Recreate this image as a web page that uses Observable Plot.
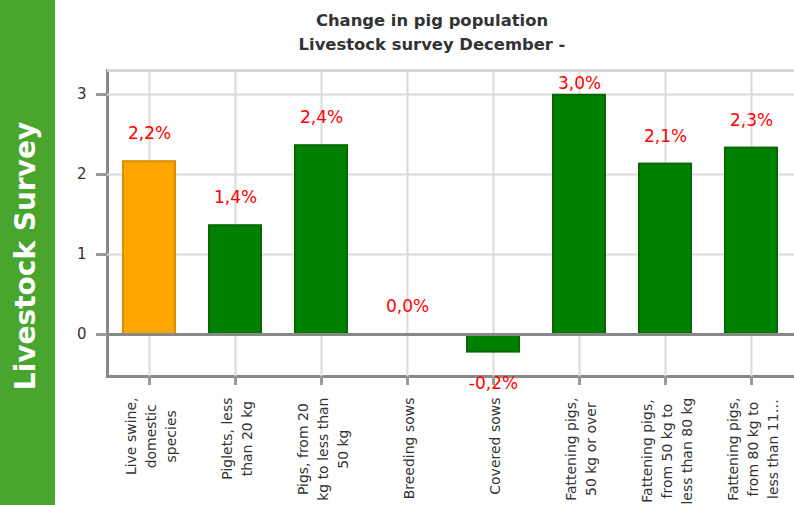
<!DOCTYPE html>
<html><head><meta charset="utf-8">
<script src="https://cdn.jsdelivr.net/npm/d3@7"></script>
<script src="https://cdn.jsdelivr.net/npm/@observablehq/plot@0.6"></script>
<style>
html,body{margin:0;padding:0;background:#fff;}
#wrap{position:relative;width:794px;height:505px;overflow:hidden;font-family:"DejaVu Sans",sans-serif;}
#side{position:absolute;left:0;top:0;width:55px;height:505px;background:#49a52e;}
#sideText{position:absolute;left:26px;top:256px;transform:translate(-50%,-50%) rotate(-90deg);white-space:nowrap;color:#fff;font-weight:bold;font-size:28px;line-height:1;}
#title{position:absolute;left:55px;width:754px;top:9px;text-align:center;font-weight:bold;font-size:16.4px;color:#333;line-height:24px;}
#chart{position:absolute;left:0;top:0;}
</style></head><body>
<div id="wrap"><div id="chart"></div><div id="side"><div id="sideText">Livestock Survey</div></div><div id="title">Change in pig population<br>Livestock survey December -</div></div>
<script>
const categories = [
  "Live swine,\ndomestic\nspecies",
  "Piglets, less\nthan 20 kg",
  "Pigs, from 20\nkg to less than\n50 kg",
  "Breeding sows",
  "Covered sows",
  "Fattening pigs,\n50 kg or over",
  "Fattening pigs,\nfrom 50 kg to\nless than 80 kg",
  "Fattening pigs,\nfrom 80 kg to\nless than 11\u2026"
];
const values = [2.16, 1.36, 2.36, 0.0, -0.22, 2.99, 2.13, 2.33];
const labels = ["2,2%", "1,4%", "2,4%", "0,0%", "-0,2%", "3,0%", "2,1%", "2,3%"];
const yTicks = [0, 1, 2, 3];
const yDomain = [-0.525, 3.3];

const data = categories.map((c, i) => ({cat: c, v: values[i], label: labels[i], hi: i === 0}));

const ctx = document.createElement("canvas").getContext("2d");
ctx.font = "14px 'DejaVu Sans'";
const labelMarks = categories.map(c => {
  const w = d3.max(c.split("\n"), s => ctx.measureText(s).width);
  return Plot.text([c], {x: d => d, frameAnchor: "bottom", dy: 21 + w / 2, rotate: -90,
    textAnchor: "middle", lineAnchor: "middle", lineHeight: 1.43, fontSize: 14, fill: "#333"});
});

const chart = Plot.plot({
  width: 794, height: 505,
  marginLeft: 107, marginRight: -3, marginTop: 70, marginBottom: 129,
  style: {fontFamily: "'DejaVu Sans', sans-serif", background: "transparent"},
  x: {domain: categories, range: [106, 794], paddingInner: 0.39, paddingOuter: 0.195, axis: null, label: null},
  y: {domain: yDomain, axis: null, label: null},
  marks: [
    Plot.frame({stroke: "#888", strokeWidth: 3}),
    Plot.gridX({stroke: "#d9d9d9", strokeOpacity: 1, strokeWidth: 2}),
    Plot.gridY({ticks: [1, 2, 3], stroke: "#d9d9d9", strokeOpacity: 1, strokeWidth: 2}),
    Plot.ruleY([yDomain[1]], {stroke: "#d6d6d6", strokeWidth: 3}),
    Plot.barY(data, {x: "cat", y: "v", fill: d => d.hi ? "#FFA500" : "#008000",
      stroke: d => d.hi ? "#D98C00" : "#006A00", strokeWidth: 2}),
    Plot.ruleY([0], {stroke: "#888", strokeWidth: 3}),
    Plot.text(data.filter(d => d.v >= 0), {x: "cat", y: d => Math.min(d.v, 2.79), dy: -28,
      text: "label", fill: "#ff0000", fontSize: 17}),
    Plot.text(data.filter(d => d.v < 0), {x: "cat", y: "v", dy: 31,
      text: "label", fill: "#ff0000", fontSize: 17}),
    Plot.axisY({ticks: yTicks, tickFormat: d3.format("d"), tickSize: 11, tickPadding: 10, stroke: "#999", strokeWidth: 3,
      fill: "#333", fontSize: 15, label: null}),
    Plot.axisX({tickSize: 9, stroke: "#999", strokeWidth: 3, tickFormat: () => "", label: null}),
    ...labelMarks
  ]
});
document.getElementById("chart").appendChild(chart);
</script>
</body></html>
